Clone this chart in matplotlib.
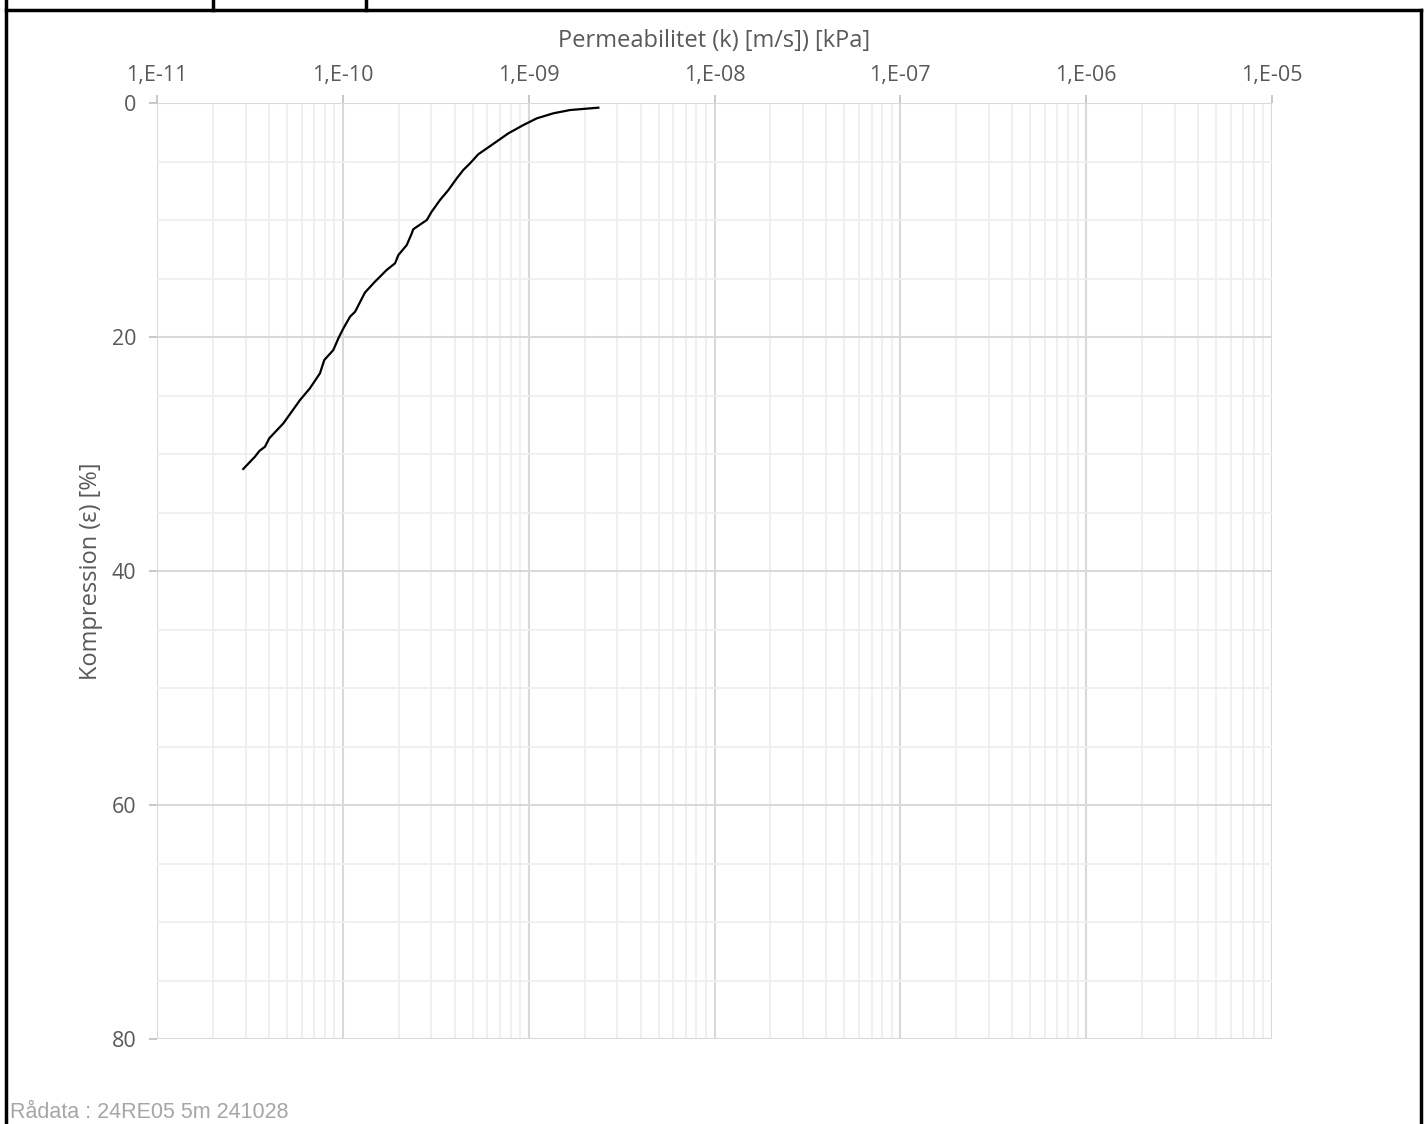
"""
Permeabilitet vs kompression, CRS-försök 24RE05 5m.
"""
import numpy as np
import matplotlib.pyplot as plt
from matplotlib.lines import Line2D
from matplotlib.ticker import FixedLocator, FuncFormatter, NullFormatter

# kurvan: log10(k) och kompression i %
log_k = [-10.536, -10.473, -10.449, -10.419, -10.396, -10.320, -10.288, -10.230,
         -10.177, -10.123, -10.100, -10.051, -10.024, -9.997, -9.961, -9.934,
         -9.881, -9.827, -9.764, -9.719, -9.701, -9.656, -9.629, -9.621, -9.548,
         -9.522, -9.477, -9.432, -9.387, -9.352, -9.315, -9.271, -9.199, -9.109,
         -9.028, -8.956, -8.867, -8.777, -8.625]
eps = [31.28, 30.23, 29.74, 29.38, 28.66, 27.38, 26.67, 25.38, 24.38, 23.10,
       21.97, 21.11, 20.11, 19.26, 18.26, 17.84, 16.20, 15.27, 14.27, 13.70,
       12.99, 12.14, 11.14, 10.79, 10.00, 9.29, 8.29, 7.44, 6.44, 5.73, 5.15,
       4.38, 3.59, 2.59, 1.88, 1.31, 0.88, 0.60, 0.40]

decades = [-11, -10, -9, -8, -7, -6, -5]
y_major = [0, 20, 40, 60, 80]

x_label = "Permeabilitet (k) [m/s]) [kPa]"
y_label = "Kompression (ε) [%]"
source_text = "Rådata : 24RE05 5m 241028"

plt.rcParams['font.family'] = ['Open Sans', 'DejaVu Sans']
txt_gray = '#595959'

fig = plt.figure(figsize=(14.27, 11.24), dpi=100)
ax = fig.add_axes([157 / 1427, 1 - 1039 / 1124, 1115 / 1427, 936 / 1124])

k = 10.0 ** np.array(log_k)
ax.plot(k, eps, color='black', linewidth=1.6, zorder=5)

ax.set_xscale('log')
ax.set_xlim(10.0 ** decades[0], 10.0 ** decades[-1])
ax.set_ylim(y_major[-1], y_major[0])

major_x = [10.0 ** d for d in decades]
minor_x = [m * 10.0 ** d for d in decades[:-1] for m in range(2, 10)]
ax.xaxis.set_major_locator(FixedLocator(major_x))
ax.xaxis.set_minor_locator(FixedLocator(minor_x))
ax.xaxis.set_minor_formatter(NullFormatter())
ax.xaxis.set_major_formatter(FuncFormatter(lambda v, p: "1,E%+03d" % int(round(np.log10(v)))))
ax.yaxis.set_major_locator(FixedLocator(y_major))
ax.yaxis.set_minor_locator(FixedLocator(np.arange(0, 81, 5)))

ax.xaxis.tick_top()
ax.xaxis.set_label_position('top')
ax.tick_params(which='major', length=6, width=1.2, color='#bfbfbf', labelcolor=txt_gray,
               labelsize=15.5, pad=6)
ax.tick_params(which='minor', length=0)
ax.tick_params(axis='y', pad=9)

ax.grid(which='major', color='#d9d9d9', linewidth=1.5)
ax.grid(which='minor', color='#efefef', linewidth=1.3)
ax.set_axisbelow(True)
for s in ax.spines.values():
    s.set_visible(False)

ax.set_xlabel(x_label, fontsize=17, color=txt_gray, labelpad=13)
ax.set_ylabel(y_label, fontsize=17, color=txt_gray, labelpad=6)

# ram runt bladet
W, H = 1427.0, 1124.0
frame = [((6, 6), (0, 1124)), ((6, 1421), (9.5, 9.5)), ((1421, 1421), (9.5, 1124)),
         ((213, 213), (0, 9.5)), ((366, 366), (0, 9.5))]
for xs, ys in frame:
    fig.add_artist(Line2D([xs[0] / W, xs[1] / W], [1 - ys[0] / H, 1 - ys[1] / H],
                          color='black', linewidth=2.5))

fig.text(10 / W, 1 - 1112 / H, source_text, fontsize=15.5, color='#a6a6a6',
         family='Liberation Sans', va='center', ha='left')

plt.savefig("out.png", dpi=100)
